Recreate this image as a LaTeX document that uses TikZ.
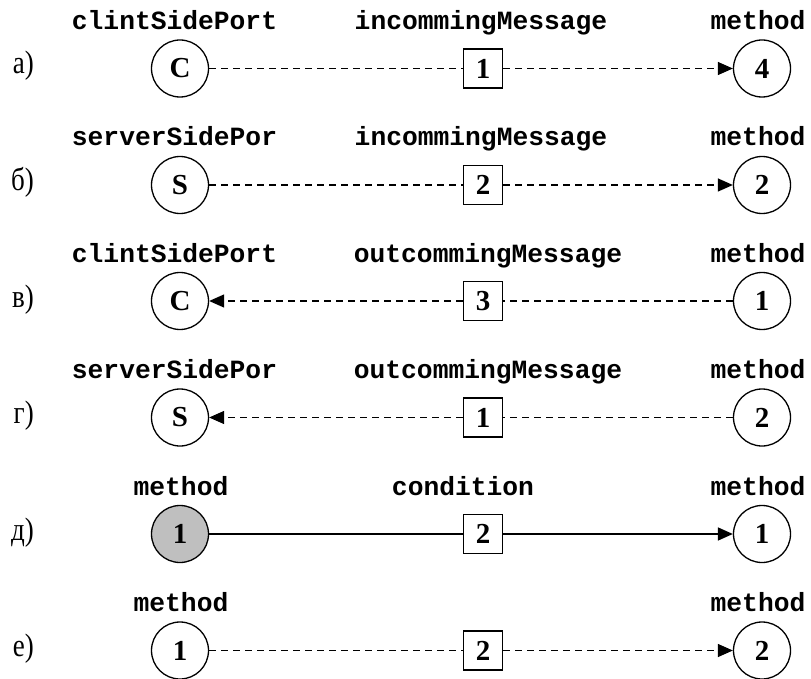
\documentclass[tikz,border=0pt]{standalone}
\usepackage{fontspec}
\setmainfont{Liberation Serif}
\newfontfamily\codefont{Liberation Mono}
\usetikzlibrary{arrows.meta}

\tikzset{
  state/.style={circle, draw, line width=1.3pt, minimum size=57pt, inner sep=0pt,
    font=\fontsize{29}{29}\selectfont\bfseries},
  msg/.style={rectangle, draw, line width=1.3pt, minimum size=39pt, inner sep=0pt,
    font=\fontsize{29}{29}\selectfont\bfseries},
  tag/.style={anchor=base, inner sep=0pt, font=\fontsize{26.3}{26.3}\selectfont\codefont\bfseries},
  rowtag/.style={anchor=base east, inner sep=0pt, font=\fontsize{27}{27}\selectfont},
  link/.style={line width=1.3pt, dash pattern=on 7pt off 5pt},
  solidlink/.style={line width=1.3pt},
  tip/.style={-{Triangle[length=15pt,width=13pt]}},
  greyfill/.style={fill=black!25}
}

\newcommand{\rowletter}[1]{\scalebox{1}[1.2]{#1}}

\begin{document}
\begin{tikzpicture}[x=1pt, y=-1pt]
\useasboundingbox (0,0) rectangle (811,679);

% row a
\node[rowtag] (ra) at (34,74) {\rowletter{а)}};
\node[tag] (ta1) at (174.5,29.5) {clintSidePort};
\node[tag] (ta2) at (481,29.5) {incommingMessage};
\node[tag] (ta3) at (758,29.5) {method};
\node[state] (a1) at (180,68.5) {C};
\node[msg] (a2) at (483,68.5) {1};
\node[state] (a3) at (762,68.5) {4};
\draw[link] (a1) -- (a2);
\draw[link,tip] (a2) -- (a3);

% row b
\node[rowtag] (rb) at (34,190.5) {\rowletter{б)}};
\node[tag] (tb1) at (174.5,145.5) {serverSidePor};
\node[tag] (tb2) at (481,145.5) {incommingMessage};
\node[tag] (tb3) at (758,145.5) {method};
\node[state] (b1) at (180,185) {S};
\node[msg] (b2) at (483,185) {2};
\node[state] (b3) at (762,185) {2};
\draw[link] (b1) -- (b2);
\draw[link,tip] (b2) -- (b3);

% row v
\node[rowtag] (rv) at (34,307) {\rowletter{в)}};
\node[tag] (tv1) at (174.5,262) {clintSidePort};
\node[tag] (tv2) at (488,262) {outcommingMessage};
\node[tag] (tv3) at (758,262) {method};
\node[state] (v1) at (180,301) {C};
\node[msg] (v2) at (483,301) {3};
\node[state] (v3) at (762,301) {1};
\draw[link] (v3) -- (v2);
\draw[link,tip] (v2) -- (v1);

% row g
\node[rowtag] (rg) at (34,423.5) {\rowletter{г)}};
\node[tag] (tg1) at (174.5,378.5) {serverSidePor};
\node[tag] (tg2) at (488,378.5) {outcommingMessage};
\node[tag] (tg3) at (758,378.5) {method};
\node[state] (g1) at (180,417.5) {S};
\node[msg] (g2) at (483,417.5) {1};
\node[state] (g3) at (762,417.5) {2};
\draw[link] (g3) -- (g2);
\draw[link,tip] (g2) -- (g1);

% row d
\node[rowtag] (rd) at (34,540) {\rowletter{д)}};
\node[tag] (td1) at (181,495) {method};
\node[tag] (td2) at (463,495) {condition};
\node[tag] (td3) at (758,495) {method};
\node[state,greyfill] (d1) at (180,534) {1};
\node[msg] (d2) at (483,534) {2};
\node[state] (d3) at (762,534) {1};
\draw[solidlink] (d1) -- (d2);
\draw[solidlink,tip,line width=1.6pt] (d2) -- (d3);

% row e
\node[rowtag] (re) at (34,656.5) {\rowletter{е)}};
\node[tag] (te1) at (181,611.5) {method};
\node[tag] (te3) at (758,611.5) {method};
\node[state] (e1) at (180,650.5) {1};
\node[msg] (e2) at (483,650.5) {2};
\node[state] (e3) at (762,650.5) {2};
\draw[link] (e1) -- (e2);
\draw[link,tip] (e2) -- (e3);
\end{tikzpicture}
\end{document}
